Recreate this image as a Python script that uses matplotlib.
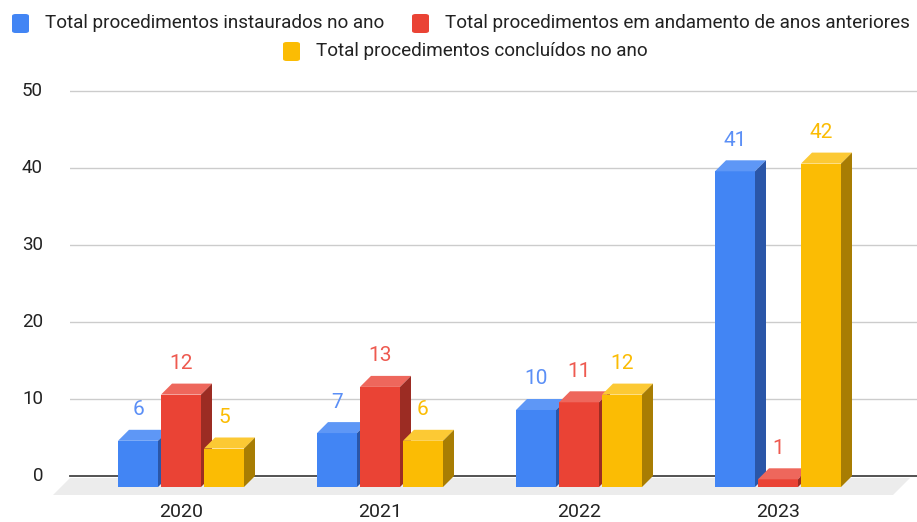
import matplotlib.pyplot as plt
from matplotlib.patches import Polygon, FancyBboxPatch

plt.rcParams["font.family"] = ["Roboto", "DejaVu Sans"]

years = ["2020", "2021", "2022", "2023"]
instaurados = [6, 7, 10, 41]
andamento = [12, 13, 11, 1]
concluidos = [5, 6, 12, 42]
series_names = [
    "Total procedimentos instaurados no ano",
    "Total procedimentos em andamento de anos anteriores",
    "Total procedimentos concluídos no ano",
]
yticks = [0, 10, 20, 30, 40, 50]

# front / top / side / label colours per series
FACES = [
    ("#4285f4", "#5e97f6", "#2a56a8", "#5b8ff6"),
    ("#ea4335", "#ee675c", "#9c2c23", "#ee5a50"),
    ("#fbbc04", "#fcc934", "#a87d03", "#fbbc04"),
]

W, H = 917, 522
PX_X = 199.0   # px per category
PX_Y = 7.7     # px per unit
DX = 11 / PX_X
DY = 11 / PX_Y
BAR_W = 40 / PX_X
STRIDE = 43 / PX_X


def px(x, y):
    return x / W, 1 - y / H


fig = plt.figure(figsize=(W / 100, H / 100), dpi=100)
ylo, yhi = -3, 52
top_px = 476 - yhi * PX_Y
bot_px = 476 - ylo * PX_Y
ax = fig.add_axes([70 / W, 1 - bot_px / H, 847 / W, (bot_px - top_px) / H])
ax.set_ylim(ylo, yhi)
ax.set_xlim((70 - 181) / PX_X, (917 - 181) / PX_X)
ax.axis("off")

x_left, x_right = ax.get_xlim()

# floor
fl_top, fl_bot = -2 / PX_Y, -19 / PX_Y
floor = Polygon(
    [(x_left - 17 / PX_X, fl_bot), (x_right - 24 / PX_X, fl_bot),
     (x_right - 7 / PX_X, fl_top), (x_left, fl_top)],
    closed=True, facecolor="#ececec", edgecolor="none", clip_on=False, zorder=0,
)
ax.add_patch(floor)

# gridlines
for t in yticks:
    if t == 0:
        ax.plot([x_left, x_right], [0, 0], color="#444444", lw=1.3, zorder=1, clip_on=False)
    else:
        ax.plot([x_left, x_right], [t, t], color="#cccccc", lw=1.0, zorder=1)
    ax.text(x_left - 27 / PX_X, t, str(t), ha="right", va="center",
            fontsize=13.5, color="#222222", clip_on=False)


def bar3d(xc, v, cols, z):
    front, top, side, _ = cols
    x0, x1 = xc - BAR_W / 2, xc + BAR_W / 2
    b = -DY
    t = v - DY
    ax.add_patch(Polygon([(x0, b), (x1, b), (x1, t), (x0, t)], closed=True,
                         facecolor=front, edgecolor="none", zorder=z, clip_on=False))
    ax.add_patch(Polygon([(x0, t), (x1, t), (x1 + DX, t + DY), (x0 + DX, t + DY)],
                         closed=True, facecolor=top, edgecolor="none", zorder=z))
    ax.add_patch(Polygon([(x1, b), (x1 + DX, b + DY), (x1 + DX, t + DY), (x1, t)],
                         closed=True, facecolor=side, edgecolor="none", zorder=z, clip_on=False))


all_series = [instaurados, andamento, concluidos]
for gi, yr in enumerate(years):
    for si, vals in enumerate(all_series):
        xc = gi + (si - 1) * STRIDE
        v = vals[gi]
        bar3d(xc, v, FACES[si], 2 + si)
        ax.text(xc, v + 20 / PX_Y, str(v), ha="center", va="center",
                fontsize=15, color=FACES[si][3], zorder=10)
    ax.text(gi, (476 - 512) / PX_Y, yr, ha="center", va="center",
            fontsize=14, color="#222222", clip_on=False)

# legend (drawn by hand: two rows, second centred)
legend_items = [
    (12, 23, 45, series_names[0], FACES[0][0]),
    (412, 23, 445, series_names[1], FACES[1][0]),
    (283, 51, 316, series_names[2], FACES[2][0]),
]
for mx, my, tx, label, col in legend_items:
    x0, y0 = px(mx, my + 10)
    box = FancyBboxPatch((x0, y0), 17 / W, 19 / H,
                         boxstyle="round,pad=0,rounding_size=0.004",
                         transform=fig.transFigure, facecolor=col, edgecolor="none")
    fig.patches.append(box)
    tx_f, ty_f = px(tx, my)
    fig.text(tx_f, ty_f, label, ha="left", va="center", fontsize=13.6, color="#222222")

fig.savefig("out.png", dpi=100, facecolor="white")
